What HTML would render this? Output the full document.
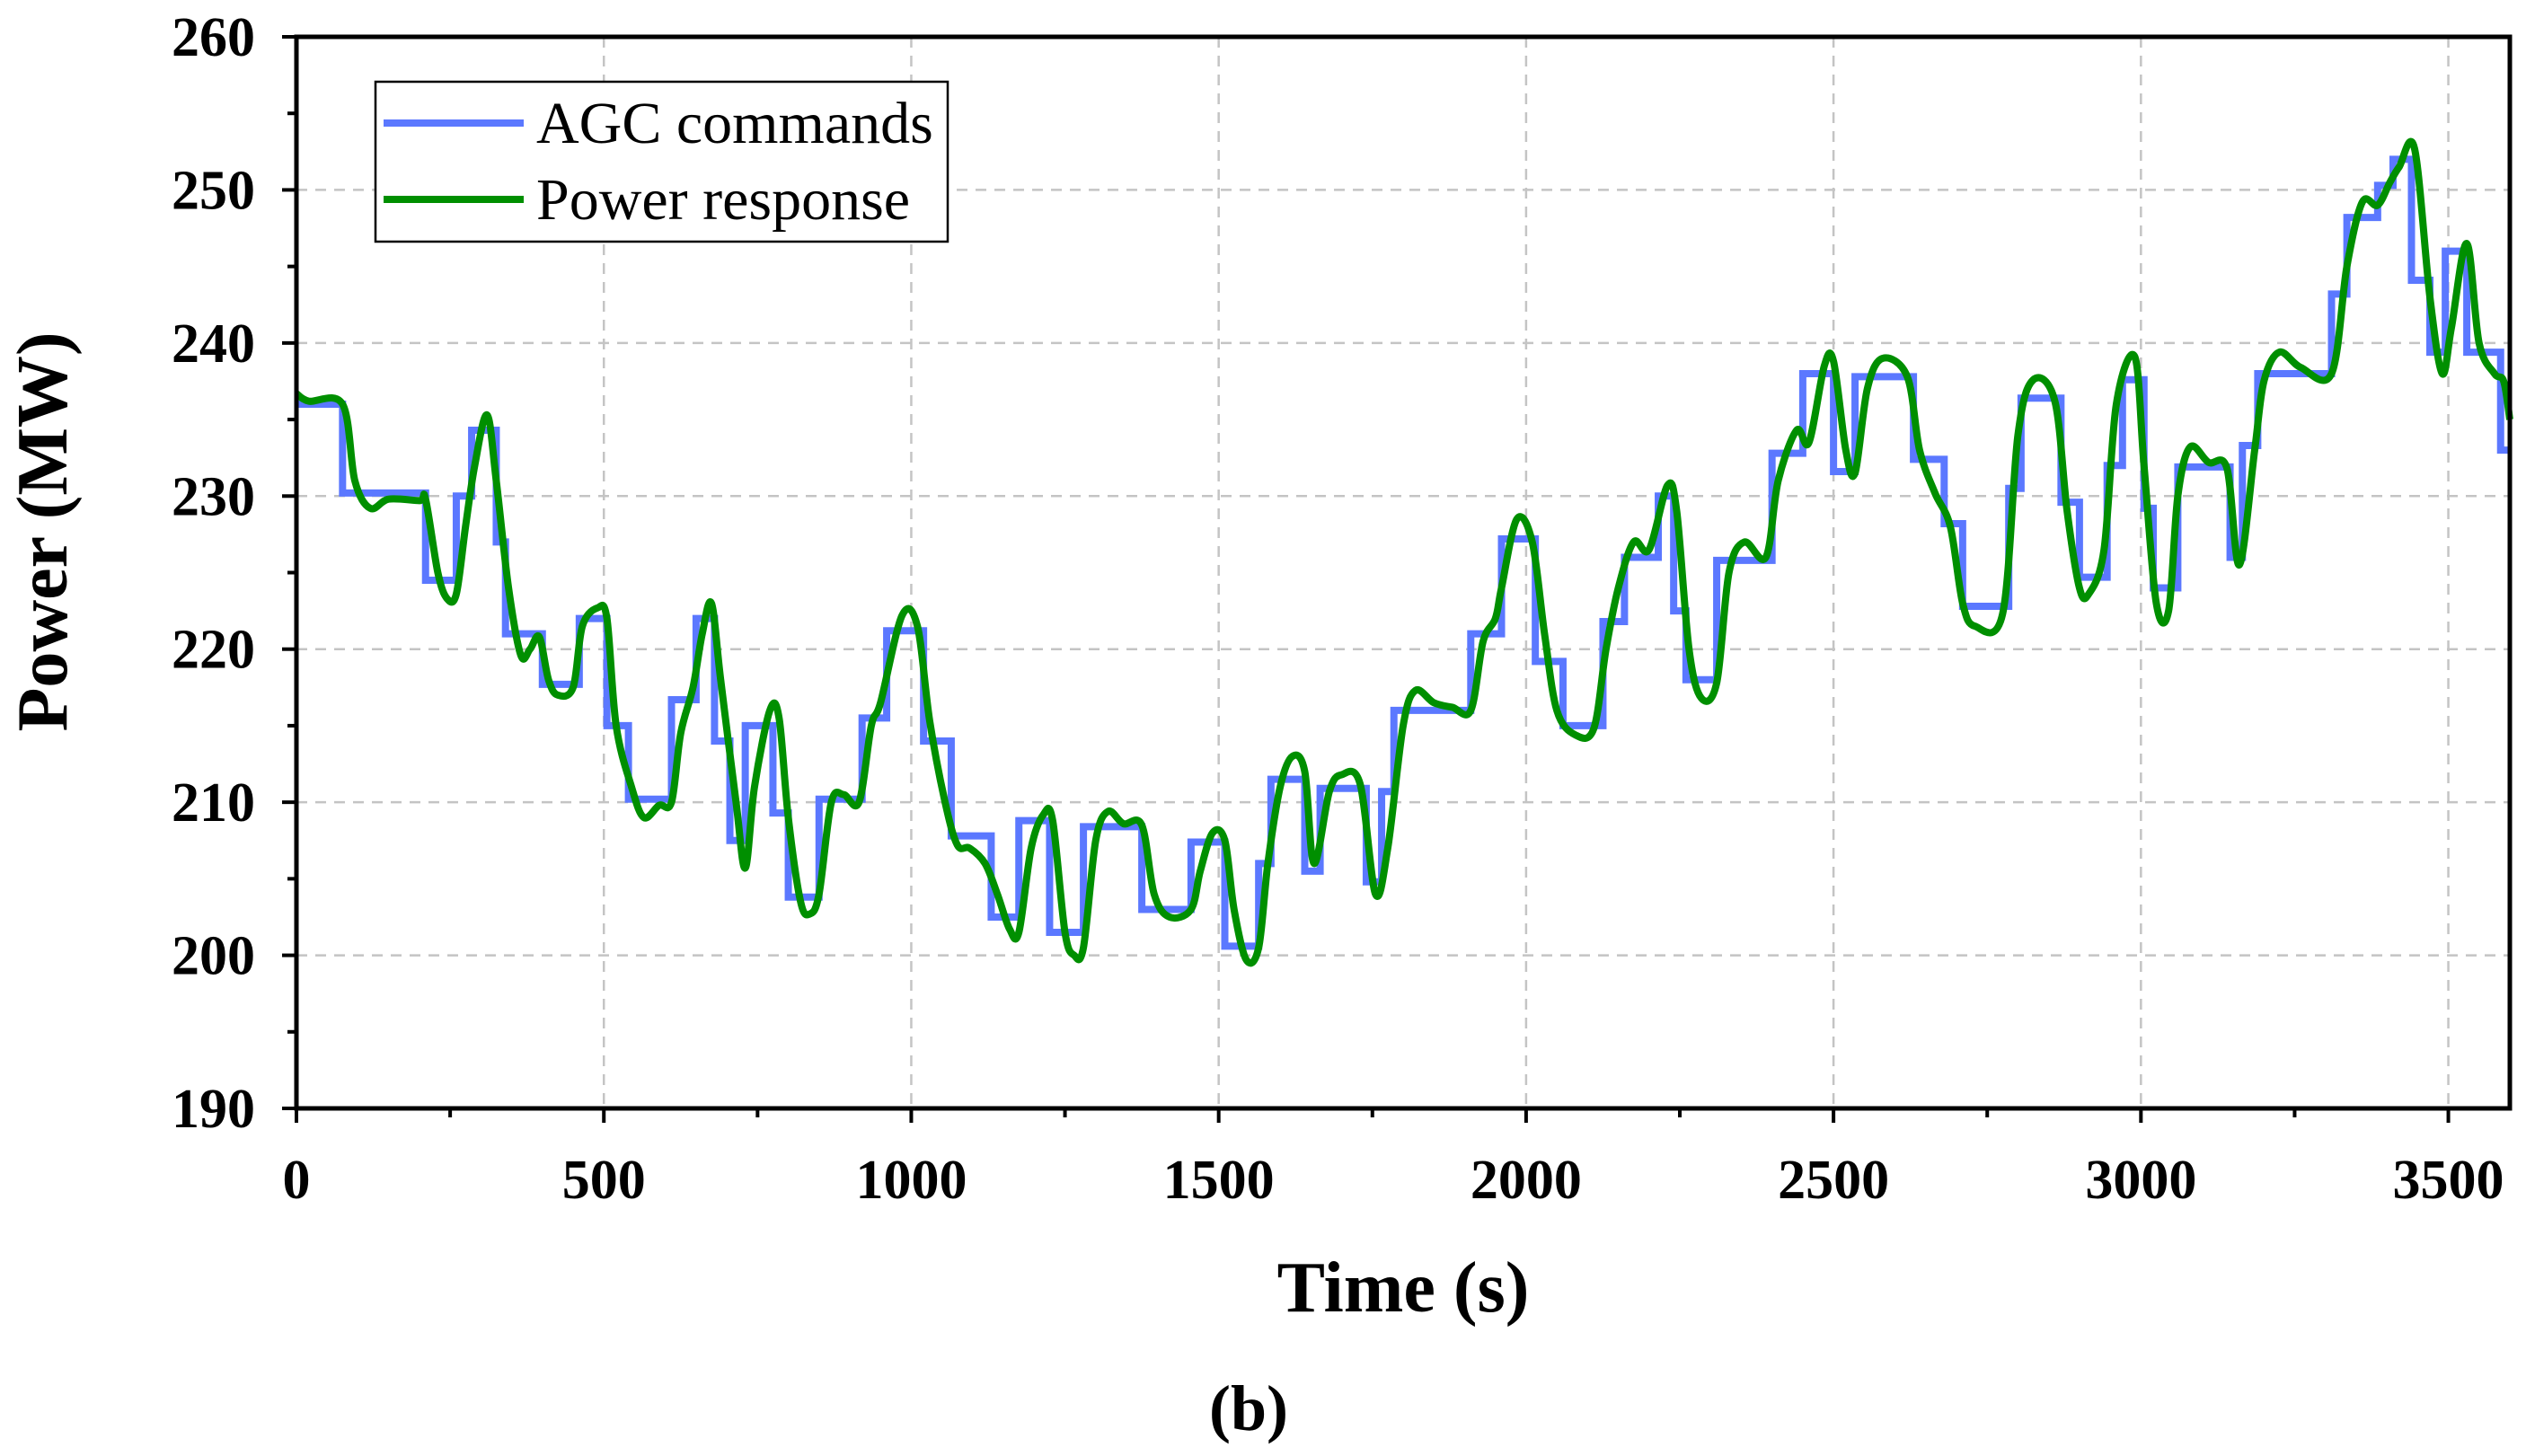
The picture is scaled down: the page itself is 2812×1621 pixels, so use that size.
<!DOCTYPE html>
<html><head><meta charset="utf-8"><style>
html,body{margin:0;padding:0;background:#fff;}
svg{display:block;}
text{font-family:"Liberation Serif",serif;}
</style></head><body>
<svg id="chart" width="2812" height="1621" viewBox="0 0 2812 1621" xmlns="http://www.w3.org/2000/svg">
<g id="grid"></g>
<g id="series"></g>
<g id="axes"></g>
<text x="1562" y="1460" font-size="80" font-weight="bold" text-anchor="middle">Time (s)</text>
<text x="0" y="0" font-size="80" font-weight="bold" text-anchor="middle" transform="translate(74,592) rotate(-90)">Power (MW)</text>
<text x="1390" y="1592" font-size="72" font-weight="bold" text-anchor="middle">(b)</text>
<g>
<rect x="418" y="91" width="637" height="178" fill="#fff" stroke="#000" stroke-width="2.5"/>
<line x1="427" y1="137" x2="583" y2="137" stroke="#5b78ff" stroke-width="8"/>
<text x="597" y="159" font-size="66">AGC commands</text>
<line x1="427" y1="222" x2="583" y2="222" stroke="#008f00" stroke-width="8"/>
<text x="597" y="244" font-size="66">Power response</text>
</g>
</svg>
<script>
const xTicks=[0,500,1000,1500,2000,2500,3000,3500];
const yTicks=[190,200,210,220,230,240,250,260];
const cmdTimes=[0,75,210,260,285,325,340,400,460,505,540,610,650,680,705,730,775,800,850,920,960,1020,1065,1130,1175,1225,1280,1375,1455,1510,1565,1585,1640,1665,1740,1765,1785,1910,1960,2015,2060,2125,2160,2215,2240,2260,2310,2400,2450,2500,2535,2630,2680,2710,2785,2805,2870,2900,2945,2970,3005,3020,3060,3145,3165,3190,3310,3335,3385,3410,3440,3470,3495,3530,3585];
const cmdValues=[236,230.2,224.5,230,234.3,227,221,217.7,222,215,210.2,216.7,222,214,207.5,215,209.3,203.8,210.2,215.5,221.2,214,207.8,202.5,208.8,201.5,208.4,203,207.4,200.6,206,211.5,205.5,210.9,204.8,210.7,216,221,227.2,219.2,215,221.8,226,230,222.5,218,225.8,232.8,238,231.6,237.8,232.4,228.2,222.8,230.5,236.4,229.6,224.7,232,237.6,229.2,224,231.9,226,233.3,238,243.2,248.2,250.3,252,244.1,239.4,246,239.4,233];
const respTimes=[0,20,75,95,120,150,200,210,230,245,260,275,290,310,325,345,365,380,395,410,425,450,465,490,505,520,545,565,590,610,625,645,660,675,690,715,730,745,770,785,800,820,835,850,870,890,915,935,950,985,1010,1030,1055,1075,1095,1120,1140,1160,1175,1195,1215,1230,1250,1265,1280,1300,1320,1345,1375,1395,1420,1455,1470,1490,1510,1525,1545,1565,1580,1600,1620,1640,1655,1680,1700,1730,1755,1775,1800,1820,1850,1880,1910,1930,1950,1960,1985,2010,2030,2050,2080,2110,2130,2150,2175,2200,2230,2245,2265,2285,2310,2330,2355,2390,2410,2440,2460,2485,2500,2520,2535,2555,2580,2620,2640,2665,2690,2710,2730,2775,2800,2825,2860,2880,2900,2915,2940,2960,2990,3005,3025,3045,3060,3080,3110,3140,3160,3185,3200,3225,3260,3310,3335,3360,3385,3405,3420,3445,3470,3490,3505,3530,3550,3575,3590,3600];
const respValues=[236.7,236.2,236,231,229.2,229.8,229.7,229.8,225,223.3,223.6,228,232,235.3,231,224,219.6,220,220.8,218,217,217.5,221.5,222.7,222,215,211,209,209.8,210,214.5,217.5,221,223,218,210,205.7,211,216,215.5,209,203.5,202.7,204,210,210.5,210,215,216.5,222.2,221.5,215.3,210,207.2,207,206,204,201.7,201.5,207,209.2,208.8,201.5,200,200.5,207.5,209.4,208.6,208.5,204,202.5,203,205.5,208,207.5,203,199.7,200.5,206,211,213,212,206,210.7,211.8,211.2,204,207,215,217.3,216.5,216.2,216,220.5,222,224,228.5,227,221,216,214.4,214.8,220,224,227,226.5,230.7,229,220,216.8,217.8,225,227,226,231,234.3,233.5,238.5,238.8,233,231.5,237,239,237.8,233,230.2,228,223,221.5,222.3,234,237.6,236.2,229,224,223.6,226.5,236,239.1,232,223,222.5,230,233.2,232.2,231.8,225.5,233,237.5,239.4,238.4,238,245,249.2,249,250.5,251.5,252.7,243,238,241,246.5,240,238,237.5,235];

const X0=330,X1=2794,Y0=1234,Y1=41,TMAX=3600,VMIN=190,VMAX=260;
const xs=t=>X0+(t/TMAX)*(X1-X0);
const ys=v=>Y0-(v-VMIN)/(VMAX-VMIN)*(Y0-Y1);
const NS="http://www.w3.org/2000/svg";
function mk(tag,parent,attrs){const e=document.createElementNS(NS,tag);for(const k in attrs)e.setAttribute(k,attrs[k]);parent.appendChild(e);return e;}
const grid=document.getElementById('grid'),axes=document.getElementById('axes'),series=document.getElementById('series');
xTicks.forEach(t=>{if(t===0)return;const l=mk('line',grid,{x1:xs(t),x2:xs(t),y1:Y1,y2:Y0,stroke:'#c4c4c4','stroke-width':2.5,'stroke-dasharray':'12,9'});

});
yTicks.forEach(v=>{if(v===VMIN||v===VMAX)return;const l=mk('line',grid,{x1:X0,x2:X1,y1:ys(v),y2:ys(v),stroke:'#c4c4c4','stroke-width':2.5,'stroke-dasharray':'12,9'});

});
let d='';
cmdTimes.forEach((t,i)=>{const y=ys(cmdValues[i]);if(i===0)d+=`M${xs(t)},${y}`;else d+=`H${xs(t)}V${y}`;});
d+=`H${xs(TMAX)}`;
const cp=mk('path',series,{d:d,fill:'none',stroke:'#5b78ff','stroke-width':8,'stroke-linejoin':'miter'});


const P=respTimes.map((t,i)=>[xs(t),ys(respValues[i])]);
let rd=`M${P[0][0]},${P[0][1]}`;
for(let i=0;i<P.length-1;i++){const p0=P[Math.max(0,i-1)],p1=P[i],p2=P[i+1],p3=P[Math.min(P.length-1,i+2)];
rd+=`C${p1[0]+(p2[0]-p0[0])/6},${p1[1]+(p2[1]-p0[1])/6} ${p2[0]-(p3[0]-p1[0])/6},${p2[1]-(p3[1]-p1[1])/6} ${p2[0]},${p2[1]}`;}
const rp=mk('path',series,{d:rd,fill:'none',stroke:'#008f00','stroke-width':8,'stroke-linejoin':'round'});


const fr=mk('rect',axes,{x:X0,y:Y1,width:X1-X0,height:Y0-Y1,fill:'none',stroke:'#000','stroke-width':5});


for(let t=0;t<=TMAX;t+=250){const major=t%500===0;const l=mk('line',axes,{x1:xs(t),x2:xs(t),y1:Y0,y2:Y0+(major?16:10),stroke:'#000','stroke-width':4});

}
for(let v=VMIN;v<=VMAX;v+=5){const major=v%10===0;const l=mk('line',axes,{x1:X0,x2:X0-(major?16:10),y1:ys(v),y2:ys(v),stroke:'#000','stroke-width':4});

}
xTicks.forEach(t=>{const tx=mk('text',axes,{x:xs(t),y:Y0+100,'font-size':62,'font-weight':'bold','text-anchor':'middle'});tx.textContent=t;

});
yTicks.forEach(v=>{const tx=mk('text',axes,{x:X0-46,y:ys(v)+21,'font-size':62,'font-weight':'bold','text-anchor':'end'});tx.textContent=v;

});
</script>
</body></html>
